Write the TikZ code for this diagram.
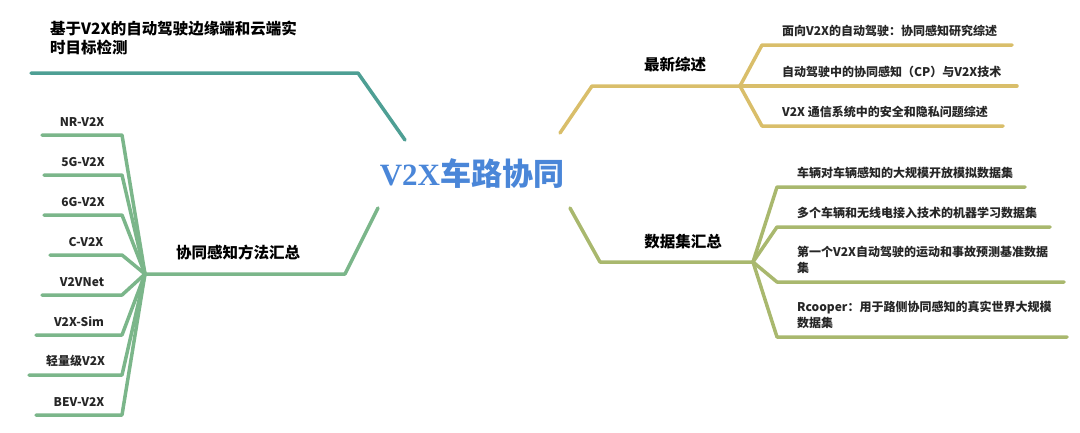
\documentclass[tikz,border=0pt]{standalone}
\usepackage{fontspec}
\setmainfont{Noto Sans CJK SC}
\newfontfamily\latinserif{Liberation Serif}
\usetikzlibrary{calc}
\usetikzlibrary{positioning}

\definecolor{tealb}{HTML}{4E9F94}
\definecolor{greenb}{HTML}{7BB68A}
\definecolor{goldb}{HTML}{D9BE6A}
\definecolor{oliveb}{HTML}{A9B86E}
\definecolor{centerblue}{HTML}{4A86D8}

\tikzset{
	branch/.style={line width=3.5pt, line join=round, line cap=round},
	mainlabel/.style={font=\fontsize{15.5}{19}\selectfont\bfseries, inner sep=0pt},
	leaflabel/.style={font=\fontsize{12}{16}\selectfont\bfseries, text=black!85, inner sep=0pt, anchor=south west, align=left},
}

\begin{document}
\begin{tikzpicture}[x=1pt, y=-1pt]

		\useasboundingbox (0,0) rectangle (1080,432);

		\node[font=\fontsize{31}{34}\selectfont\bfseries, text=centerblue] (root) at (472,174) {{\latinserif V2X}车路协同};

		% upper left
		\coordinate (tealA) at (405,140);
		\coordinate (tealB) at (358,73);
		\coordinate (tealC) at (31,73);
		\draw[branch, tealb] (tealA) -- (tealB) -- (tealC);
		\node[mainlabel, anchor=north west, align=left] (edge) at (50,21) {基于V2X的自动驾驶边缘端和云端实\\时目标检测};

		% lower left
		\coordinate (greenA) at (378,208);
		\coordinate (greenB) at (345,274);
		\coordinate (hubL) at (145,274);
		\draw[branch, greenb] (greenA) -- (greenB) -- (hubL);
		\node[mainlabel] (method) at (238,253) {协同感知方法汇总};
		\foreach \y/\xl/\txt [count=\i] in {135/42/NR-V2X, 175/44/5G-V2X, 215/44/6G-V2X, 255/50/C-V2X,
				295/42/V2VNet, 335/36/V2X-Sim, 375/29/轻量级V2X, 415/36/BEV-V2X}{
			\coordinate (mR\i) at (122,\y);
			\coordinate (mL\i) at (\xl,\y);
			\draw[branch, greenb] (hubL) -- (mR\i) -- (mL\i);
			\node[leaflabel, anchor=south] (m\i) at ($(mL\i)!0.5!(mR\i)+(0,-8)$) {\txt};
		}

		% upper right
		\coordinate (goldA) at (560,133);
		\coordinate (goldB) at (592,86);
		\coordinate (hubR) at (740,86);
		\draw[branch, goldb] (goldA) -- (goldB) -- (hubR);
		\node[mainlabel] (review) at (675,65) {最新综述};
		\foreach \y/\xr/\txt [count=\i] in {45/1012/面向V2X的自动驾驶：协同感知研究综述,
				86/1017/自动驾驶中的协同感知（CP）与V2X技术,
				126/1003/V2X 通信系统中的安全和隐私问题综述}{
			\coordinate (rL\i) at (762,\y);
			\coordinate (rR\i) at (\xr,\y);
			\draw[branch, goldb] (hubR) -- (rL\i) -- (rR\i);
			\node[leaflabel] (r\i) at ($(rL\i)+(20,-8)$) {\txt};
		}

		% lower right
		\coordinate (oliveA) at (570,208);
		\coordinate (oliveB) at (600,262);
		\coordinate (hubD) at (753,262);
		\draw[branch, oliveb] (oliveA) -- (oliveB) -- (hubD);
		\node[mainlabel] (dataset) at (683,242) {数据集汇总};
		\foreach \y/\xr/\txt [count=\i] in {187/1025/车辆对车辆感知的大规模开放模拟数据集,
				227/1050/多个车辆和无线电接入技术的机器学习数据集,
				282/1064/{第一个V2X自动驾驶的运动和事故预测基准数据\\集},
				337/1067/{Rcooper：用于路侧协同感知的真实世界大规模\\数据集}}{
			\coordinate (dL\i) at (777,\y);
			\coordinate (dR\i) at (\xr,\y);
			\draw[branch, oliveb] (hubD) -- (dL\i) -- (dR\i);
			\node[leaflabel] (d\i) at ($(dL\i)+(20,-8)$) {\txt};
		}

	\end{tikzpicture}
\end{document}
